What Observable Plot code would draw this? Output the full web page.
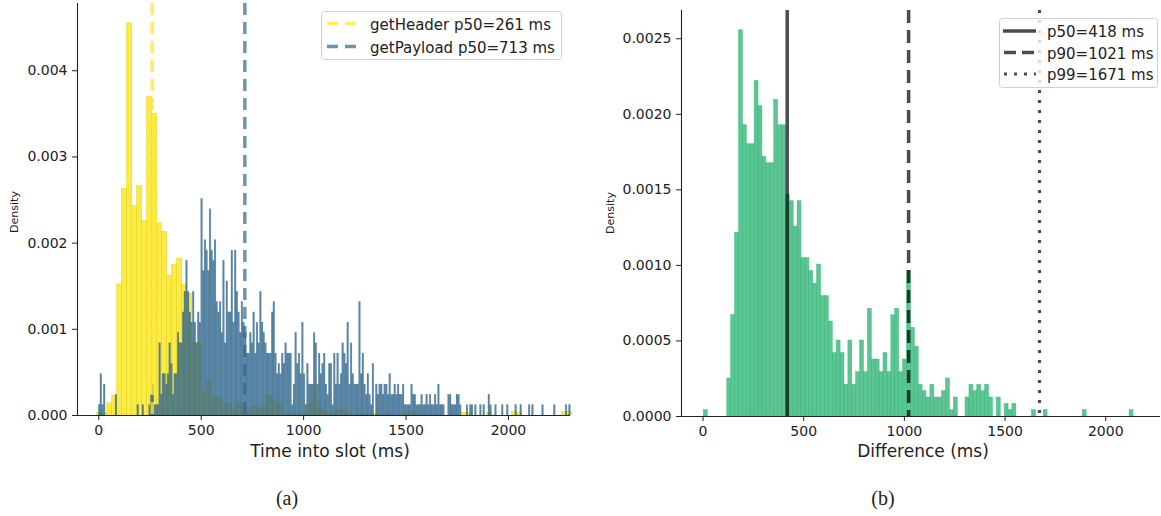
<!DOCTYPE html>
<html>
<head>
<meta charset="utf-8">
<script src="https://cdn.jsdelivr.net/npm/d3@7"></script>
<script src="https://cdn.jsdelivr.net/npm/@observablehq/plot@0.6"></script>
<style>
  body { margin: 0; background: white; }
  #wrap { position: relative; width: 1161px; height: 516px; background: white; font-family: "DejaVu Sans", sans-serif; overflow: hidden; }
  #left { position: absolute; left: 0; top: 0; }
  #right { position: absolute; left: 600px; top: 0; }
  #overlay { position: absolute; left: 0; top: 0; }
</style>
</head>
<body>
<div id="wrap">
  <div id="left"></div>
  <div id="right"></div>
  <svg id="overlay" width="1161" height="516" font-family="DejaVu Sans" fill="#222">
    <text x="330" y="457" text-anchor="middle" font-size="17">Time into slot (ms)</text>
    <text x="923" y="457" text-anchor="middle" font-size="17">Difference (ms)</text>
    <text transform="translate(18,212) rotate(-90)" text-anchor="middle" font-size="11">Density</text>
    <text transform="translate(614,213) rotate(-90)" text-anchor="middle" font-size="11">Density</text>
    <text x="287" y="505" text-anchor="middle" font-size="20" font-family="Liberation Serif">(a)</text>
    <text x="883" y="505" text-anchor="middle" font-size="20" font-family="Liberation Serif">(b)</text>
    <!-- left legend -->
    <rect x="321.5" y="11.5" width="240" height="48" rx="3" fill="white" fill-opacity="0.8" stroke="#d0d0d0"/>
    <line x1="327" x2="357" y1="23.5" y2="23.5" stroke="#fde725" stroke-opacity="0.75" stroke-width="3.5" stroke-dasharray="11,7"/>
    <line x1="327" x2="357" y1="46.5" y2="46.5" stroke="#31688e" stroke-opacity="0.7" stroke-width="3.5" stroke-dasharray="11,7"/>
    <text x="370" y="29.5" font-size="15">getHeader p50=261 ms</text>
    <text x="370" y="52.5" font-size="15">getPayload p50=713 ms</text>
    <!-- right legend -->
    <rect x="999.5" y="18.5" width="158" height="69" rx="3" fill="white" fill-opacity="0.8" stroke="#d0d0d0"/>
    <line x1="1003" x2="1036" y1="31" y2="31" stroke="black" stroke-opacity="0.7" stroke-width="3.5"/>
    <line x1="1004" x2="1036" y1="52.5" y2="52.5" stroke="black" stroke-opacity="0.7" stroke-width="3.5" stroke-dasharray="12,6"/>
    <line x1="1004" x2="1036" y1="74" y2="74" stroke="black" stroke-opacity="0.7" stroke-width="3.2" stroke-dasharray="3,7"/>
    <text x="1047" y="37" font-size="15">p50=418 ms</text>
    <text x="1047" y="58.5" font-size="15">p90=1021 ms</text>
    <text x="1047" y="80" font-size="15">p99=1671 ms</text>
  </svg>
</div>
<script>
// ---------- data ----------
// getHeader histogram (density per bin)
const headerBinStart = -8;
const headerBinWidth = 24.4;
const headerDensity = [
  0.00003,0.00003,0.00014,0.00023,0.00152,0.00263,0.00455,0.00243,0.00266,0.00226,
  0.0037,0.0035,0.00223,0.00213,0.00162,0.00175,0.00182,0.00152,0.00141,0.00084,
  0.00084,0.00027,0.0004,0.00023,0.0002,0.00014,0.00014,0.00006,0.00014,0.0001,
  0.00006,0.0001,0.00008,0.0001,0.00023,0.00018,0.00014,0.00002,0.00002,0.00002,
  0.00002,0.00002,0.00013,0.00034,0.00009,0.00006,0.00002,0.00005,0.00006,0.00006,
  0.00002,0,0.00002,0.00002,0,0.00002,0.00002,0,0.00002,0,
  0,0.00002,0.00004,0.00004,0,0.00002,0,0,0,0,
  0,0,0,0.00003,0.00003,0,0,0,0.00003,0,
  0,0,0,0.00004,0.00003,0,0,0,0,0,
  0,0,0,0.00004,0.00004
];
// getPayload histogram (counts per bin)
const payloadBinStart = 0;
const payloadBinWidth = 8.2;
const payloadDensityPerCount = 0.0001196;
const payloadCounts = [
  1,4,1,3,0,0,0,0,0,0,
  2,0,0,0,0,0,0,0,0,0,
  0,0,0,1,0,0,1,0,0,0,
  1,2,3,1,1,1,7,2,4,4,
  3,4,7,5,2,4,4,8,7,7,
  10,12,15,12,10,9,12,9,7,10,
  9,21,14,17,16,14,20,16,15,17,
  11,10,11,8,15,7,13,10,10,16,
  9,16,12,10,8,11,9,8,6,6,
  8,7,10,6,9,7,12,9,8,7,
  6,6,6,10,11,6,4,5,4,6,
  5,7,6,6,6,1,3,8,5,6,
  4,9,4,1,5,3,3,3,8,7,
  3,6,4,5,6,3,2,5,5,1,
  6,3,6,3,4,7,6,5,9,3,
  7,4,3,3,3,11,4,6,3,2,
  4,2,1,5,0,3,2,3,3,2,
  3,3,2,4,2,2,3,2,3,2,
  2,3,1,1,1,1,3,2,2,1,
  1,1,2,1,1,2,1,2,1,1,
  2,1,3,1,1,1,0,0,2,2,
  1,1,1,2,2,1,0,0,0,1,
  0,1,1,0,1,0,0,1,0,1,
  0,0,2,1,0,0,1,0,0,0,
  1,0,0,1,0,0,0,0,1,0,
  0,1,0,0,0,0,1,0,1,0,
  0,0,0,0,1,0,0,0,0,0,
  0,1,0,0,0,0,0,0,1,0,1
];
// Difference histogram (counts per bin)
const diffBinStart = 4;
const diffBinWidth = 19.4;
const diffDensityPerCount = 0.0000419;
const diffCounts = [
  1,0,0,0,0,0,6,16,29,61,
  46,43,43,53,49,41,40,40,50,46,
  46,35,34,30,34,25,25,23,21,24,
  19,19,15,10,12,10,5,12,5,7,
  12,7,17,9,9,7,10,7,16,17,
  7,9,23,14,11,5,4,3,5,3,
  3,4,6,1,3,0,0,3,5,4,
  5,4,5,3,0,3,0,2,1,2,
  0,0,0,0,1,0,0,1,0,0,
  0,0,0,0,0,0,0,1,0,0,
  0,0,0,0,0,0,0,0,0,1
];
// percentiles
const headerP50 = 261;
const payloadP50 = 713;
const diffP50 = 418;
const diffP90 = 1021;
const diffP99 = 1671;
// ticks
const xTicks = [0, 500, 1000, 1500, 2000];
const leftYTicks = [0, 0.001, 0.002, 0.003, 0.004];
const rightYTicks = [0, 0.0005, 0.001, 0.0015, 0.002, 0.0025];

// ---------- build rows ----------
function binsToRows(values, start, width, scale) {
  const rows = [];
  values.forEach((v, i) => {
    if (v > 0) rows.push({x1: start + i * width, x2: start + (i + 1) * width, y: v * scale});
  });
  return rows;
}
const headerRows = binsToRows(headerDensity, headerBinStart, headerBinWidth, 1);
const payloadRows = binsToRows(payloadCounts, payloadBinStart, payloadBinWidth, payloadDensityPerCount);
const diffRows = binsToRows(diffCounts, diffBinStart, diffBinWidth, diffDensityPerCount);

const YELLOW = "#fde725", BLUE = "#31688e", GREEN = "#35b779";
const axisStyle = {fontFamily: "DejaVu Sans", fontSize: "14px", color: "#222", background: "transparent", overflow: "visible"};

const xLeftDomain = [-104, 2303];
const left = Plot.plot({
  width: 590, height: 465,
  marginLeft: 77, marginRight: 20, marginTop: 3, marginBottom: 50,
  style: axisStyle,
  x: {domain: xLeftDomain, ticks: xTicks, tickFormat: d3.format("d"), tickSize: 5, tickPadding: 5, label: null},
  y: {domain: [0, 0.00478], ticks: leftYTicks, tickFormat: d3.format(".3f"), tickSize: 5, tickPadding: 5, label: null},
  marks: [
    Plot.rectY(headerRows, {x1: "x1", x2: "x2", y: "y", fill: YELLOW, fillOpacity: 0.85, stroke: "#e6d11c", strokeWidth: 0.5}),
    Plot.rectY(payloadRows, {x1: "x1", x2: "x2", y: "y", fill: BLUE, fillOpacity: 0.8, stroke: BLUE, strokeOpacity: 0.5, strokeWidth: 0.4}),
    Plot.ruleX([headerP50], {stroke: YELLOW, strokeOpacity: 0.75, strokeWidth: 3.5, strokeDasharray: "12,7"}),
    Plot.ruleX([payloadP50], {stroke: BLUE, strokeOpacity: 0.7, strokeWidth: 3.5, strokeDasharray: "12,7"}),
    Plot.ruleY([0], {stroke: "#222", strokeWidth: 1.1}),
    Plot.ruleX([xLeftDomain[0]], {stroke: "#222", strokeWidth: 1.1})
  ]
});
document.getElementById("left").appendChild(left);

const xRightDomain = [-107, 2272];
const right = Plot.plot({
  width: 561, height: 466,
  marginLeft: 81, marginRight: 1, marginTop: 10, marginBottom: 50,
  style: axisStyle,
  x: {domain: xRightDomain, ticks: xTicks, tickFormat: d3.format("d"), tickSize: 5, tickPadding: 5, label: null},
  y: {domain: [0, 0.002687], ticks: rightYTicks, tickFormat: d3.format(".4f"), tickSize: 5, tickPadding: 5, label: null},
  marks: [
    Plot.rectY(diffRows, {x1: "x1", x2: "x2", y: "y", fill: GREEN, fillOpacity: 0.8, stroke: GREEN, strokeOpacity: 0.9, strokeWidth: 0.5}),
    Plot.ruleX([diffP50], {stroke: "black", strokeOpacity: 0.7, strokeWidth: 3.5}),
    Plot.ruleX([diffP90], {stroke: "black", strokeOpacity: 0.7, strokeWidth: 3.5, strokeDasharray: "13,7"}),
    Plot.ruleX([diffP99], {stroke: "black", strokeOpacity: 0.7, strokeWidth: 3.2, strokeDasharray: "3,7"}),
    Plot.ruleY([0], {stroke: "#222", strokeWidth: 1.1}),
    Plot.ruleX([xRightDomain[0]], {stroke: "#222", strokeWidth: 1.1})
  ]
});
document.getElementById("right").appendChild(right);
</script>
</body>
</html>
